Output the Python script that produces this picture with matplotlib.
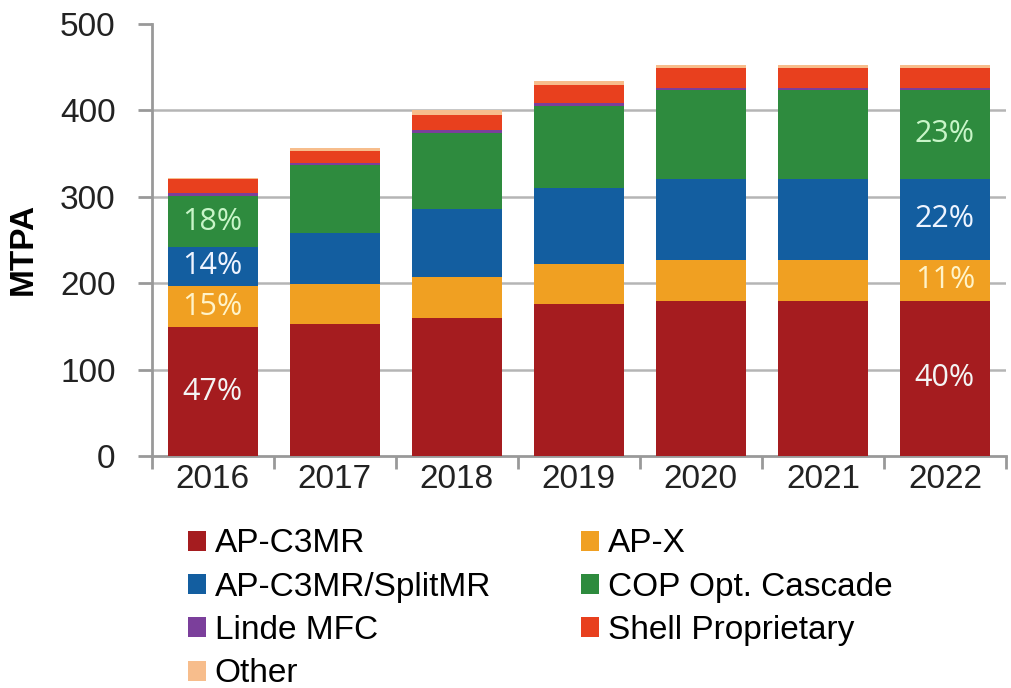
import matplotlib.pyplot as plt
import numpy as np

years = ["2016", "2017", "2018", "2019", "2020", "2021", "2022"]
series = ["AP-C3MR", "AP-X", "AP-C3MR/SplitMR", "COP Opt. Cascade",
          "Linde MFC", "Shell Proprietary", "Other"]
ap_c3mr = [149, 153, 160, 176, 180, 180, 180]
ap_x = [48, 46, 47, 46, 47, 47, 47]
split_mr = [45, 59, 79, 88, 94, 94, 94]
cop = [59, 79, 88, 95, 103, 103, 103]
linde = [3, 2, 3, 4, 2, 2, 2]
shell = [17, 14, 18, 20, 23, 23, 23]
other = [1, 4, 6, 5, 4, 4, 4]
colors = ["#a51c1f", "#f0a022", "#135ea0", "#2e8b3e", "#7b3f9b", "#e8401e", "#f7bd8c"]

# percent labels: (year index, series index, text)
pct_labels = [(0, 0, "47%"), (0, 1, "15%"), (0, 2, "14%"), (0, 3, "18%"),
              (6, 0, "40%"), (6, 1, "11%"), (6, 2, "22%"), (6, 3, "23%")]
pct_colors = ["#f4f4f4", "#fff3c8", "#eef4ff", "#c8f5c8"]

font = ["Liberation Sans", "DejaVu Sans"]

fig = plt.figure(figsize=(10.11, 6.88), dpi=100)
ax = fig.add_axes([0.150, 0.337, 0.845, 0.628])

data = np.array([ap_c3mr, ap_x, split_mr, cop, linde, shell, other], dtype=float)
x = np.arange(len(years))
bottom = np.zeros(len(years))
handles = []
for i, name in enumerate(series):
    h = ax.bar(x, data[i], 0.74, bottom=bottom, color=colors[i], label=name, zorder=3)
    handles.append(h)
    bottom += data[i]

cum = np.cumsum(data, axis=0)
for yi, si, txt in pct_labels:
    lo = cum[si - 1][yi] if si > 0 else 0
    mid = lo + data[si][yi] / 2
    ax.text(x[yi], mid, txt, ha="center", va="center", fontsize=22,
            color=pct_colors[si], family="Open Sans", zorder=4)

ax.set_xlim(-0.5, len(years) - 0.5)
ax.set_ylim(0, 500)
ax.set_yticks([0, 100, 200, 300, 400, 500])
ax.set_xticks(x)
ax.set_xticklabels(years)
ax.set_xticks(np.arange(-0.5, len(years)), minor=True)
ax.tick_params(axis="x", which="major", length=0, pad=6)
ax.tick_params(axis="x", which="minor", length=9, color="#999999", width=2)
ax.tick_params(axis="y", length=10, color="#999999", width=2, pad=16)
for lab in ax.get_xticklabels() + ax.get_yticklabels():
    lab.set_family(font)
    lab.set_fontsize(24)
    lab.set_color("#222222")

for y in [100, 200, 300, 400]:
    ax.axhline(y, color="#b5b5b5", lw=1.8, zorder=1)

for s in ["top", "right"]:
    ax.spines[s].set_visible(False)
for s in ["left", "bottom"]:
    ax.spines[s].set_color("#999999")
    ax.spines[s].set_linewidth(2)

ax.set_ylabel("MTPA", fontsize=24, fontweight="bold", family=font)
ax.yaxis.set_label_coords(-0.132, 0.48)

order = [0, 2, 4, 6, 1, 3, 5]
leg = fig.legend([handles[i] for i in order], [series[i] for i in order],
                 loc="upper left", bbox_to_anchor=(0.186, 0.232), ncol=2,
                 frameon=False, borderpad=0, borderaxespad=0,
                 handlelength=0.55, handleheight=0.55,
                 handletextpad=0.25, columnspacing=2.7, labelspacing=0.37,
                 prop={"family": font, "size": 24})

fig.savefig("out.png", dpi=100)
